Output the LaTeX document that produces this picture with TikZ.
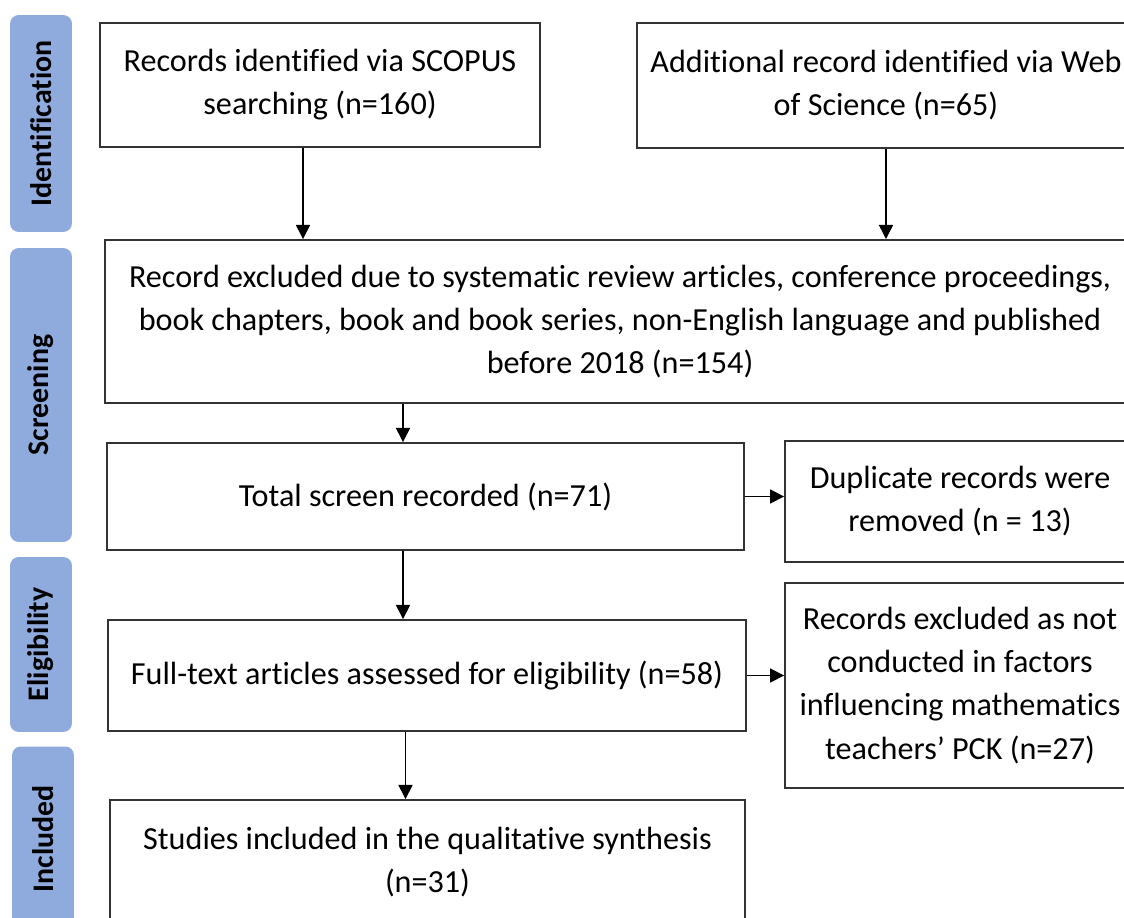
\documentclass[tikz,border=0pt]{standalone}
\usepackage{fontspec}
\setmainfont{Carlito}[Ligatures=NoCommon]
\usetikzlibrary{arrows.meta}

\definecolor{phaseblue}{HTML}{8FAADC}

\begin{document}
\begin{tikzpicture}[x=0.02cm, y=-0.02cm,
    box/.style={draw=black!80, line width=1.1pt, align=center, inner sep=0pt,
      font=\fontsize{18.3}{24.5}\selectfont},
    phase/.style={fill=phaseblue, rounded corners=5pt, rotate=90, inner sep=0pt,
      minimum height=1.24cm, font=\fontsize{17}{20}\selectfont\bfseries},
    arr/.style={-{Triangle[length=8pt,width=8pt]}, line width=0.8pt}]
    \useasboundingbox (0,0) rectangle (1124,918);

    % phase bars
    \node[phase, minimum width=4.34cm] (ident) at (41,123.5) {Identification};
    \node[phase, minimum width=5.88cm] (scr) at (41,395) {Screening};
    \node[phase, minimum width=3.5cm] (elig) at (41,644.5) {Eligibility};
    \node[phase, minimum width=3.7cm] (inc) at (43,839) {Included};

    % boxes
    \node[box, minimum width=8.8cm, minimum height=2.48cm] (scopus) at (320,85)
      {Records identified via SCOPUS\\searching (n=160)};
    \node[box, minimum width=9.96cm, minimum height=2.5cm] (wos) at (886,85.5)
      {Additional record identified via Web\\of Science (n=65)};
    \node[box, minimum width=20.6cm, minimum height=3.26cm] (screen) at (620,321.5)
      {Record excluded due to systematic review articles, conference proceedings,\\
       book chapters, book and book series, non-English language and published\\
       before 2018 (n=154)};
    \node[box, minimum width=12.74cm, minimum height=2.14cm] (total) at (425.5,496.5)
      {Total screen recorded (n=71)};
    \node[box, minimum width=7cm, minimum height=2.42cm] (dup) at (960,501.5)
      {Duplicate records were\\removed (n = 13)};
    \node[box, minimum width=12.76cm, minimum height=2.22cm] (full) at (427,675.5)
      {Full-text articles assessed for eligibility (n=58)};
    \node[box, minimum width=7cm, minimum height=4.1cm] (excl) at (960,685.5)
      {Records excluded as not\\conducted in factors\\influencing mathematics\\teachers’ PCK (n=27)};
    \node[box, minimum width=12.7cm, minimum height=2.48cm] (incl) at (427.5,862)
      {Studies included in the qualitative synthesis\\(n=31)};

    % arrows
    \draw[arr] ([xshift=-0.34cm]scopus.south) -- ([xshift=-0.34cm]scopus.south |- screen.north);
    \draw[arr] (wos.south) -- (wos.south |- screen.north);
    \draw[arr] ([xshift=-0.45cm]total.north |- screen.south) -- ([xshift=-0.45cm]total.north);
    \draw[arr] (total.east) -- (total.east -| dup.west);
    \draw[arr] ([xshift=-0.45cm]total.south) -- ([xshift=-0.45cm]total.south |- full.north);
    \draw[arr] (full.east) -- (full.east -| excl.west);
    \draw[arr] ([xshift=-0.43cm]full.south) -- ([xshift=-0.43cm]full.south |- incl.north);
\end{tikzpicture}
\end{document}
